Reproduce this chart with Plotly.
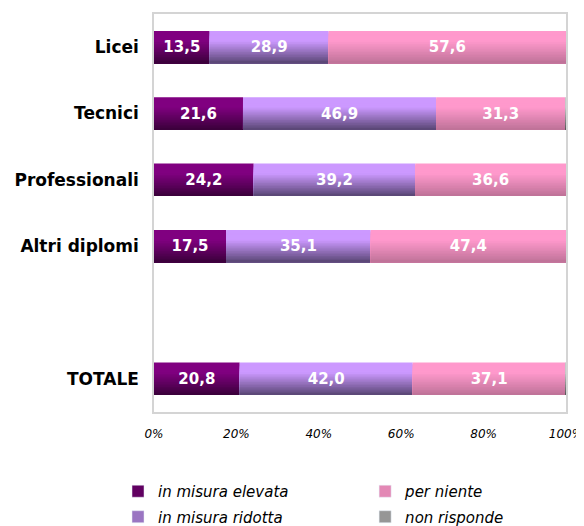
import plotly.graph_objects as go

# Data
categories = ["Licei", "Tecnici", "Professionali", "Altri diplomi", " ", "TOTALE"]
elevata = [13.5, 21.6, 24.2, 17.5, None, 20.8]
ridotta = [28.9, 46.9, 39.2, 35.1, None, 42.0]
per_niente = [57.6, 31.3, 36.6, 47.4, None, 37.1]
non_risponde = [0.0, 0.2, 0.0, 0.0, None, 0.1]
tick_vals = [0, 20, 40, 60, 80, 100]
tick_text = ["0%", "20%", "40%", "60%", "80%", "100%"]

# name, values, top colour, bottom colour, show labels, legend
series = [
    ("in misura elevata", elevata, "#800080", "#3c003c", True, "legend"),
    ("in misura ridotta", ridotta, "#cc99ff", "#5c4878", True, "legend"),
    ("per niente", per_niente, "#ff99cc", "#c07399", True, "legend2"),
    ("non risponde", non_risponde, "#c8c8c8", "#5a5a5a", False, "legend2"),
]

BAR_W = 0.49
N_BANDS = 20


def hex_to_rgb(h):
    h = h.lstrip("#")
    return tuple(int(h[i:i + 2], 16) for i in (0, 2, 4))


def mix(c1, c2, t):
    a, b = hex_to_rgb(c1), hex_to_rgb(c2)
    return "rgb(%d,%d,%d)" % tuple(round(a[i] + (b[i] - a[i]) * t) for i in range(3))


fig = go.Figure()

# stacked segments; each band runs from its top edge to the bar bottom,
# darker bands drawn later on top -> vertical gradient without gaps
base = [0.0 if v is not None else None for v in elevata]
for name, vals, top, bottom, show_text, leg in series:
    x = [v if v is not None else 0 for v in vals]
    b = [bb if bb is not None else 0 for bb in base]
    step = BAR_W / N_BANDS
    for k in range(N_BANDS):
        t = k / (N_BANDS - 1)
        t = max(0.0, (t - 0.3) / 0.7)
        fig.add_trace(go.Bar(
            y=categories, x=x, base=b, orientation="h",
            width=BAR_W - k * step,
            offset=-BAR_W / 2 + k * step,
            marker=dict(color=mix(top, bottom, t), line=dict(width=0)),
            showlegend=False, hoverinfo="skip",
        ))
    # value labels
    labels = []
    for v in vals:
        if v is None or not show_text:
            labels.append("")
        else:
            labels.append(f"{v:.1f}".replace(".", ","))
    fig.add_trace(go.Bar(
        y=categories, x=x, base=b, orientation="h",
        width=BAR_W, offset=-BAR_W / 2,
        marker=dict(color="rgba(0,0,0,0)", line=dict(width=0)),
        text=labels, textposition="inside", insidetextanchor="middle",
        textfont=dict(color="white", size=15, family="DejaVu Sans", weight="bold"),
        showlegend=False, hoverinfo="skip",
    ))
    base = [bb + v if bb is not None else None for bb, v in zip(base, vals)]

# legend entries, two columns = two legends
for name, vals, top, bottom, _, leg in series:
    fig.add_trace(go.Bar(
        y=[None], x=[None], orientation="h", name=name, legend=leg,
        legendgroup=name,
        marker=dict(color=mix(top, bottom, 0.45)),
    ))

leg_style = dict(
    orientation="v", xref="container", yref="container",
    xanchor="left", yanchor="top",
    font=dict(size=15, style="italic"),
    traceorder="grouped", tracegroupgap=3,
    bgcolor="rgba(0,0,0,0)",
)

# the page body adds an 8px offset, so the figure is 8px smaller than the window
fig.update_layout(
    width=576, height=518,
    margin=dict(l=146, r=18, t=6, b=114, autoexpand=False),
    barmode="overlay",
    plot_bgcolor="white", paper_bgcolor="white",
    font=dict(family="DejaVu Sans", color="black"),
    legend=dict(x=0.191, y=0.0985, **leg_style),
    legend2=dict(x=0.620, y=0.0985, **leg_style),
    xaxis=dict(
        range=[0, 100], tickvals=tick_vals, ticktext=tick_text,
        showgrid=False, zeroline=False, showline=True, mirror=True,
        linecolor="#d4d4d4", linewidth=1.5, ticks="", ticklabelstandoff=10,
        tickfont=dict(size=12, style="italic"), automargin=False,
    ),
    yaxis=dict(
        categoryorder="array", categoryarray=categories, autorange="reversed",
        showgrid=False, zeroline=False, showline=True, mirror=True,
        linecolor="#d4d4d4", linewidth=1.5, ticks="", ticklabelstandoff=10,
        tickfont=dict(size=17, weight="bold"), automargin=False,
    ),
)

fig.write_html("out.html")
